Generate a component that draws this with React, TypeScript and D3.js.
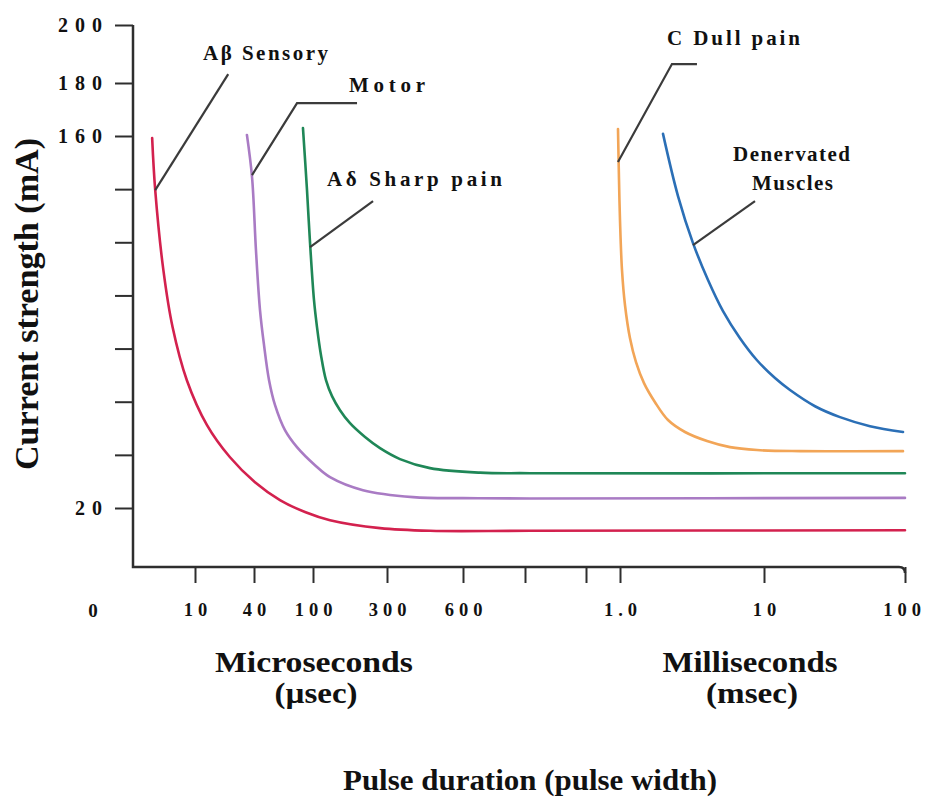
import { useEffect, useRef } from "react";
import * as d3 from "d3";

const W = 928;
const H = 801;

// pulse duration axis (µs), printed as a broken, piecewise scale
const xDomain = [0, 10, 40, 100, 300, 600, 800, 900, 1000, 10000, 100000];
const xTickValues = [10, 40, 100, 300, 600, 800, 900, 1000, 10000, 100000];
const xTickLabels = ["10", "40", "100", "300", "600", "", "", "1.0", "10", "100"];

// current strength (mA)
const yTickValues = [20, 40, 60, 80, 100, 120, 140, 160, 180, 200];
const yLabelled = [20, 160, 180, 200];

// strength-duration curves: [pulse width µs, current mA]
const abetaSensory = [
  [5.8, 159.2], [6.1, 139.6], [6.9, 109.5], [7.8, 88.1], [9.2, 68.1], [16.1, 51.2],
  [27.8, 39.1], [41.0, 29.7], [66.4, 23.0], [92.5, 18.4], [146, 15.4], [281, 12.4],
  [470, 11.4], [808, 11.4], [100000, 11.6],
];
const motor = [
  [36.4, 160.4], [39.0, 144.5], [42.0, 117.0], [46.1, 94.5], [50.2, 81.3], [55.3, 68.1],
  [61.4, 58.7], [71.5, 49.3], [83.7, 42.9], [105.4, 36.1], [146, 31.6], [235, 26.7],
  [403, 24.1], [600, 23.7], [808, 23.6], [100000, 23.8],
];
const adeltaSharp = [
  [89.8, 163.0], [93.9, 139.6], [97.0, 119.7], [102.7, 98.2], [110.8, 88.1], [121.6, 77.5],
  [135.1, 68.1], [151.4, 62.1], [173.0, 56.8], [200.0, 51.9], [240.6, 46.7], [281.1, 42.5],
  [351.3, 38.4], [469.7, 35.0], [654.8, 33.3], [808, 33.1], [100000, 33.1],
];
const cDullPain = [
  [994.1, 162.6], [997.1, 143.4], [1000, 128.3], [1125, 109.5], [1313, 96.3], [1625, 83.9],
  [2000, 74.9], [2500, 67.0], [3188, 59.8], [4000, 53.1], [5063, 48.6], [6438, 45.2],
  [7875, 42.9], [9563, 41.8], [32979, 41.4], [98724, 41.4],
];
const denervated = [
  [3688, 160.8], [4625, 137.4], [5563, 119.7], [6500, 105.8], [7438, 94.1], [8500, 83.9],
  [9563, 75.6], [17021, 68.9], [26596, 64.4], [42553, 58.3], [58511, 54.2], [77660, 50.8],
  [98724, 48.6],
];

const series = [
  { name: "Aβ Sensory", values: abetaSensory, color: "#d3214e" },
  { name: "Motor", values: motor, color: "#a97bc4" },
  { name: "Aδ Sharp pain", values: adeltaSharp, color: "#1f8757" },
  { name: "C Dull pain", values: cDullPain, color: "#f2a557" },
  { name: "Denervated Muscles", values: denervated, color: "#2b6fb6" },
];

// leader lines: anchor on the curve in data units, then pixel offsets
const leaders = [
  { at: [6.1, 139.6], path: [[73, -116]] },
  { at: [39.0, 145.3], path: [[45, -72], [105, -72]] },
  { at: [97.0, 118.2], path: [[63, -46]] },
  { at: [994, 150.2], path: [[54, -98], [79, -98]] },
  { at: [5563, 118.9], path: [[62, -44]] },
];

const labels = [
  { text: "Aβ Sensory", x: 203, y: 60, w: 125 },
  { text: "Motor", x: 349, y: 92, w: 76 },
  { text: "Aδ Sharp pain", x: 327, y: 186, w: 175 },
  { text: "C Dull pain", x: 667, y: 45, w: 133 },
  { text: "Denervated", x: 733, y: 161, w: 117 },
  { text: "Muscles", x: 752, y: 190, w: 81 },
];

const FONT = "'Liberation Serif', 'Times New Roman', serif";

export default function App() {
  const ref = useRef<SVGSVGElement>(null);

  useEffect(() => {
    const svg = d3.select(ref.current);
    svg.selectAll("*").remove();

    const x = d3.scaleLinear()
      .domain(xDomain)
      .range([93, 195, 254, 313, 387, 463, 525, 586, 620, 764, 905]);
    const y = d3.scaleLinear()
      .domain([0, 20, 160, 180, 200])
      .range([561, 508, 136, 83, 25]);

    const axisY = 567;
    const axisX = 133;
    const ink = "#2e2e2e";

    // axis lines
    svg.append("path")
      .attr("d", `M${axisX},${y(200)} V${axisY} H${x(100000) - 6} Q${x(100000)},${axisY} ${x(100000)},${axisY + 6}`)
      .attr("fill", "none")
      .attr("stroke", ink)
      .attr("stroke-width", 2.5);

    const gx = svg.append("g")
      .attr("transform", `translate(0,${axisY})`)
      .call(d3.axisBottom(x)
        .tickValues(xTickValues)
        .tickFormat((d, i) => xTickLabels[i])
        .tickSize(16)
        .tickPadding(20));
    gx.select(".domain").remove();
    gx.selectAll("line").attr("stroke", ink).attr("stroke-width", 2);
    gx.selectAll("text")
      .attr("fill", "#111")
      .attr("font-family", FONT)
      .attr("font-weight", "bold")
      .attr("font-size", 18.5)
      .attr("letter-spacing", "5px")
      .attr("dx", (d, i) => (i === xTickValues.length - 1 ? -1 : 2.5));

    svg.append("text")
      .attr("x", 93).attr("y", 617)
      .attr("text-anchor", "middle")
      .attr("font-family", FONT).attr("font-weight", "bold").attr("font-size", 19)
      .attr("fill", "#111")
      .text("0");

    const gy = svg.append("g")
      .attr("transform", `translate(${axisX},0)`)
      .call(d3.axisLeft(y)
        .tickValues(yTickValues)
        .tickFormat(d => (yLabelled.includes(+d) ? String(d) : ""))
        .tickSize(18)
        .tickPadding(6));
    gy.select(".domain").remove();
    gy.selectAll("line").attr("stroke", ink).attr("stroke-width", 2);
    gy.selectAll("text")
      .attr("fill", "#111")
      .attr("font-family", FONT)
      .attr("font-weight", "bold")
      .attr("font-size", 20)
      .attr("letter-spacing", "7px");

    // curves
    const line = d3.line()
      .x(d => x(d[0]))
      .y(d => y(d[1]))
      .curve(d3.curveCatmullRom.alpha(0.5));

    svg.append("g")
      .selectAll("path")
      .data(series)
      .join("path")
      .attr("d", d => line(d.values))
      .attr("fill", "none")
      .attr("stroke", d => d.color)
      .attr("stroke-width", 2.6)
      .attr("stroke-linecap", "round");

    // leader lines
    svg.append("g")
      .selectAll("path")
      .data(leaders)
      .join("path")
      .attr("d", d => {
        const x0 = x(d.at[0]);
        const y0 = y(d.at[1]);
        return `M${x0},${y0}` + d.path.map(([dx, dy]) => `L${x0 + dx},${y0 + dy}`).join("");
      })
      .attr("fill", "none")
      .attr("stroke", "#3b3b3b")
      .attr("stroke-width", 2.2);

    // curve labels
    svg.append("g")
      .selectAll("text")
      .data(labels)
      .join("text")
      .attr("x", d => d.x)
      .attr("y", d => d.y)
      .attr("textLength", d => d.w)
      .attr("lengthAdjust", "spacing")
      .attr("font-family", FONT)
      .attr("font-weight", "bold")
      .attr("font-size", 21)
      .attr("fill", "#111")
      .text(d => d.text);

    // axis titles
    const title = (t, cx, cy, w, size = 30) =>
      svg.append("text")
        .attr("x", cx - w / 2).attr("y", cy)
        .attr("textLength", w)
        .attr("lengthAdjust", "spacingAndGlyphs")
        .attr("font-family", FONT).attr("font-weight", "bold").attr("font-size", size)
        .attr("fill", "#111")
        .text(t);

    title("Microseconds", 314, 672, 198);
    title("(µsec)", 316, 703, 83, 29);
    title("Milliseconds", 750, 672, 175);
    title("(msec)", 752, 703, 92, 29);
    title("Pulse duration (pulse width)", 530, 790, 374);

    svg.append("text")
      .attr("transform", "translate(38,470) rotate(-90)")
      .attr("textLength", 332)
      .attr("lengthAdjust", "spacingAndGlyphs")
      .attr("font-family", FONT).attr("font-weight", "bold").attr("font-size", 33)
      .attr("fill", "#111")
      .text("Current strength (mA)");
  }, []);

  return (
    <svg
      ref={ref}
      width={W}
      height={H}
      style={{ position: "absolute", left: 0, top: 0, background: "#fff" }}
    />
  );
}
